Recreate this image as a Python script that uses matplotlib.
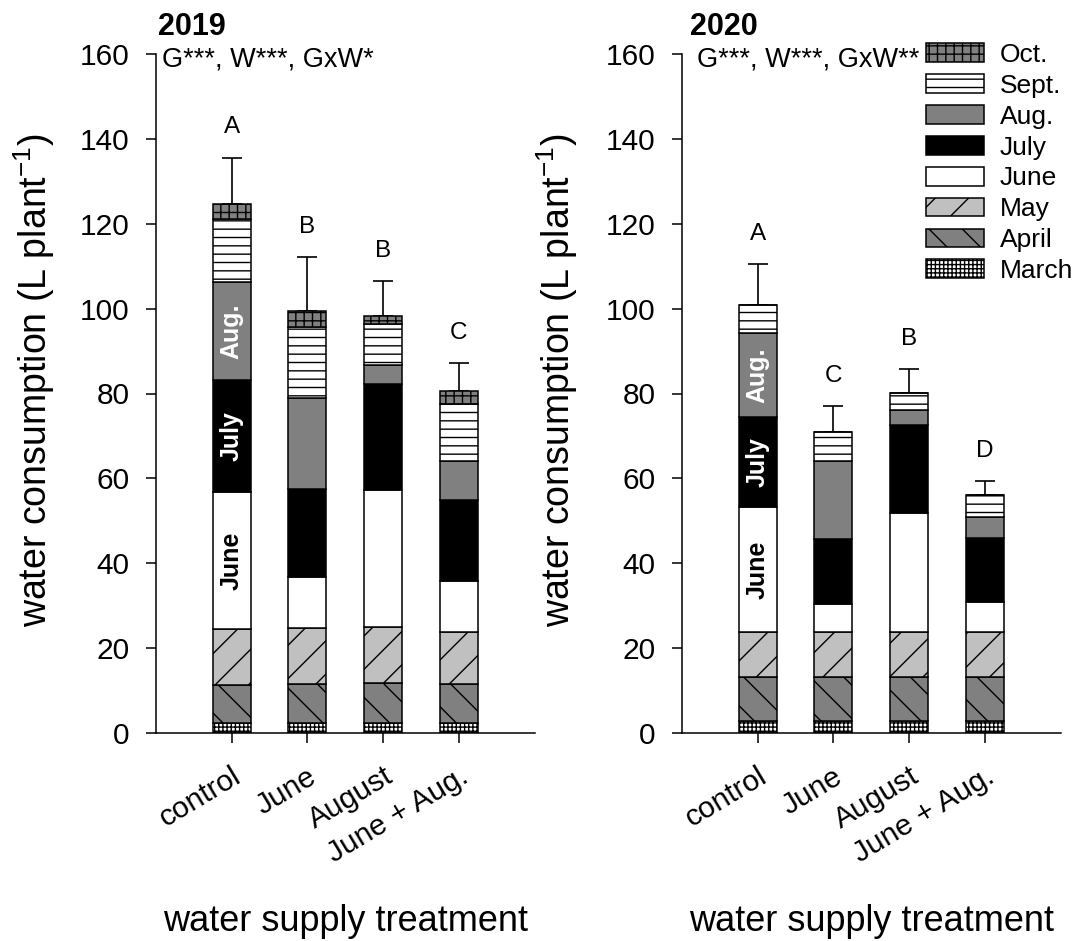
#!/usr/bin/env python3
"""Monthly water consumption per plant under four water supply treatments,
stacked by month, one panel per season (2019, 2020)."""
import numpy as np
import matplotlib
matplotlib.use('Agg')
import matplotlib.pyplot as plt
from matplotlib.patches import Patch

plt.rcParams['font.family'] = ['Liberation Sans', 'DejaVu Sans']
plt.rcParams['mathtext.fontset'] = 'custom'
plt.rcParams['mathtext.rm'] = 'Liberation Sans'
plt.rcParams['mathtext.it'] = 'Liberation Sans:italic'
plt.rcParams['mathtext.bf'] = 'Liberation Sans:bold'
plt.rcParams['hatch.linewidth'] = 1.0

treatments = ['control', 'June', 'August', 'June + Aug.']
months = ['March', 'April', 'May', 'June', 'July', 'Aug.', 'Sept.', 'Oct.']

# monthly consumption (L plant-1), one row per month, columns follow `treatments`
water_2019 = [
    [2.4, 2.4, 2.4, 2.4],      # March
    [8.9, 9.1, 9.4, 9.1],      # April
    [13.2, 13.2, 13.2, 12.3],  # May
    [32.3, 12.1, 32.3, 12.0],  # June
    [26.4, 20.7, 24.9, 19.1],  # July
    [23.1, 21.4, 4.5, 9.2],    # Aug.
    [14.8, 16.8, 9.7, 13.4],   # Sept.
    [3.5, 3.7, 1.9, 3.1],      # Oct.
]
water_2020 = [
    [2.8, 2.8, 2.8, 2.8],
    [10.4, 10.4, 10.4, 10.4],
    [10.6, 10.6, 10.6, 10.6],
    [29.5, 6.6, 28.0, 7.1],
    [21.2, 15.3, 20.8, 15.0],
    [19.7, 18.4, 3.5, 5.0],
    [6.6, 6.8, 4.0, 5.2],
    [0.0, 0.0, 0.0, 0.0],
]
sd_2019 = [11.0, 12.8, 8.2, 6.6]
sd_2020 = [9.7, 6.1, 5.7, 3.3]
letters_2019 = ['A', 'B', 'B', 'C']
letters_2020 = ['A', 'C', 'B', 'D']
stats_2019 = 'G***, W***, GxW*'
stats_2020 = 'G***, W***, GxW**'

# fill / hatch per month
month_style = {
    'March': dict(facecolor='white', hatch='++++'),
    'April': dict(facecolor='#808080', hatch='\\'),
    'May': dict(facecolor='#c0c0c0', hatch='/'),
    'June': dict(facecolor='white', hatch=None),
    'July': dict(facecolor='black', hatch=None),
    'Aug.': dict(facecolor='#808080', hatch=None),
    'Sept.': dict(facecolor='white', hatch='--'),
    'Oct.': dict(facecolor='#808080', hatch='++'),
}
# month names written inside the control bar
inbar_text = {'June': 'black', 'July': 'white', 'Aug.': 'white'}

W, H = 1078, 941
fig = plt.figure(figsize=(W / 100, H / 100), dpi=100)
ax1 = fig.add_axes([156 / W, 1 - 733 / H, 378.5 / W, 679 / H])
ax2 = fig.add_axes([682 / W, 1 - 733 / H, 378.5 / W, 679 / H])


def draw_panel(ax, data, sd, letters, year, stats, title_x, stats_x, ylab_x):
    x = np.arange(1, len(treatments) + 1)
    bottom = np.zeros(len(treatments))
    for name, vals in zip(months, data):
        vals = np.array(vals)
        st = month_style[name]
        ax.bar(x, vals, 0.5, bottom=bottom, facecolor=st['facecolor'],
               hatch=st['hatch'], edgecolor='black', linewidth=1.1, zorder=2)
        if name in inbar_text:
            ax.text(x[0], bottom[0] + vals[0] / 2, name, rotation=90,
                    ha='center', va='center', fontsize=18, fontweight='bold',
                    color=inbar_text[name], zorder=3)
        bottom = bottom + vals

    ax.errorbar(x, bottom, yerr=[np.zeros(len(sd)), sd], fmt='none',
                ecolor='black', elinewidth=1.2, capsize=7, capthick=1.2, zorder=1)
    for xi, top, s, letter in zip(x, bottom, sd, letters):
        ax.text(xi, top + s + 4.5, letter, ha='center', va='bottom', fontsize=17.5)

    ax.set_xlim(0, 5)
    ax.set_ylim(0, 160)
    ax.set_yticks(np.arange(0, 161, 20))
    ax.set_xticks(x)
    ax.set_xticklabels(treatments, rotation=31, ha='right',
                       rotation_mode='anchor', fontsize=21.5)
    ax.tick_params(axis='y', labelsize=21.5, length=7, width=1.1, pad=12)
    ax.tick_params(axis='x', length=7, width=1.1, pad=14)
    for side in ('top', 'right'):
        ax.spines[side].set_visible(False)
    for side in ('left', 'bottom'):
        ax.spines[side].set_linewidth(1.1)

    ax.set_ylabel(r'water consumption (L plant$^{-1}$)', fontsize=27)
    ax.yaxis.set_label_coords(ylab_x, 0.52)
    ax.set_xlabel('water supply treatment', fontsize=26)
    ax.xaxis.set_label_coords(0.5, -0.252)

    ax.text(title_x, 1.028, year, transform=ax.transAxes, fontsize=22,
            fontweight='bold', ha='left', va='baseline')
    ax.text(stats_x, 157, stats, fontsize=19.5, ha='left', va='baseline')


draw_panel(ax1, water_2019, sd_2019, letters_2019, '2019', stats_2019,
           0.005, 0.08, -0.262)
draw_panel(ax2, water_2020, sd_2020, letters_2020, '2020', stats_2020,
           0.021, 0.2, -0.27)

handles = [Patch(facecolor=month_style[m]['facecolor'], hatch=month_style[m]['hatch'],
                 edgecolor='black', linewidth=1.1, label=m) for m in reversed(months)]
fig.legend(handles=handles, loc='upper left', bbox_to_anchor=(926 / W, 1 - 43 / H),
           frameon=False, fontsize=19, borderpad=0, borderaxespad=0,
           handlelength=2.2, handleheight=0.72, labelspacing=0.26, handletextpad=0.6)

fig.savefig('out.png', dpi=100)
